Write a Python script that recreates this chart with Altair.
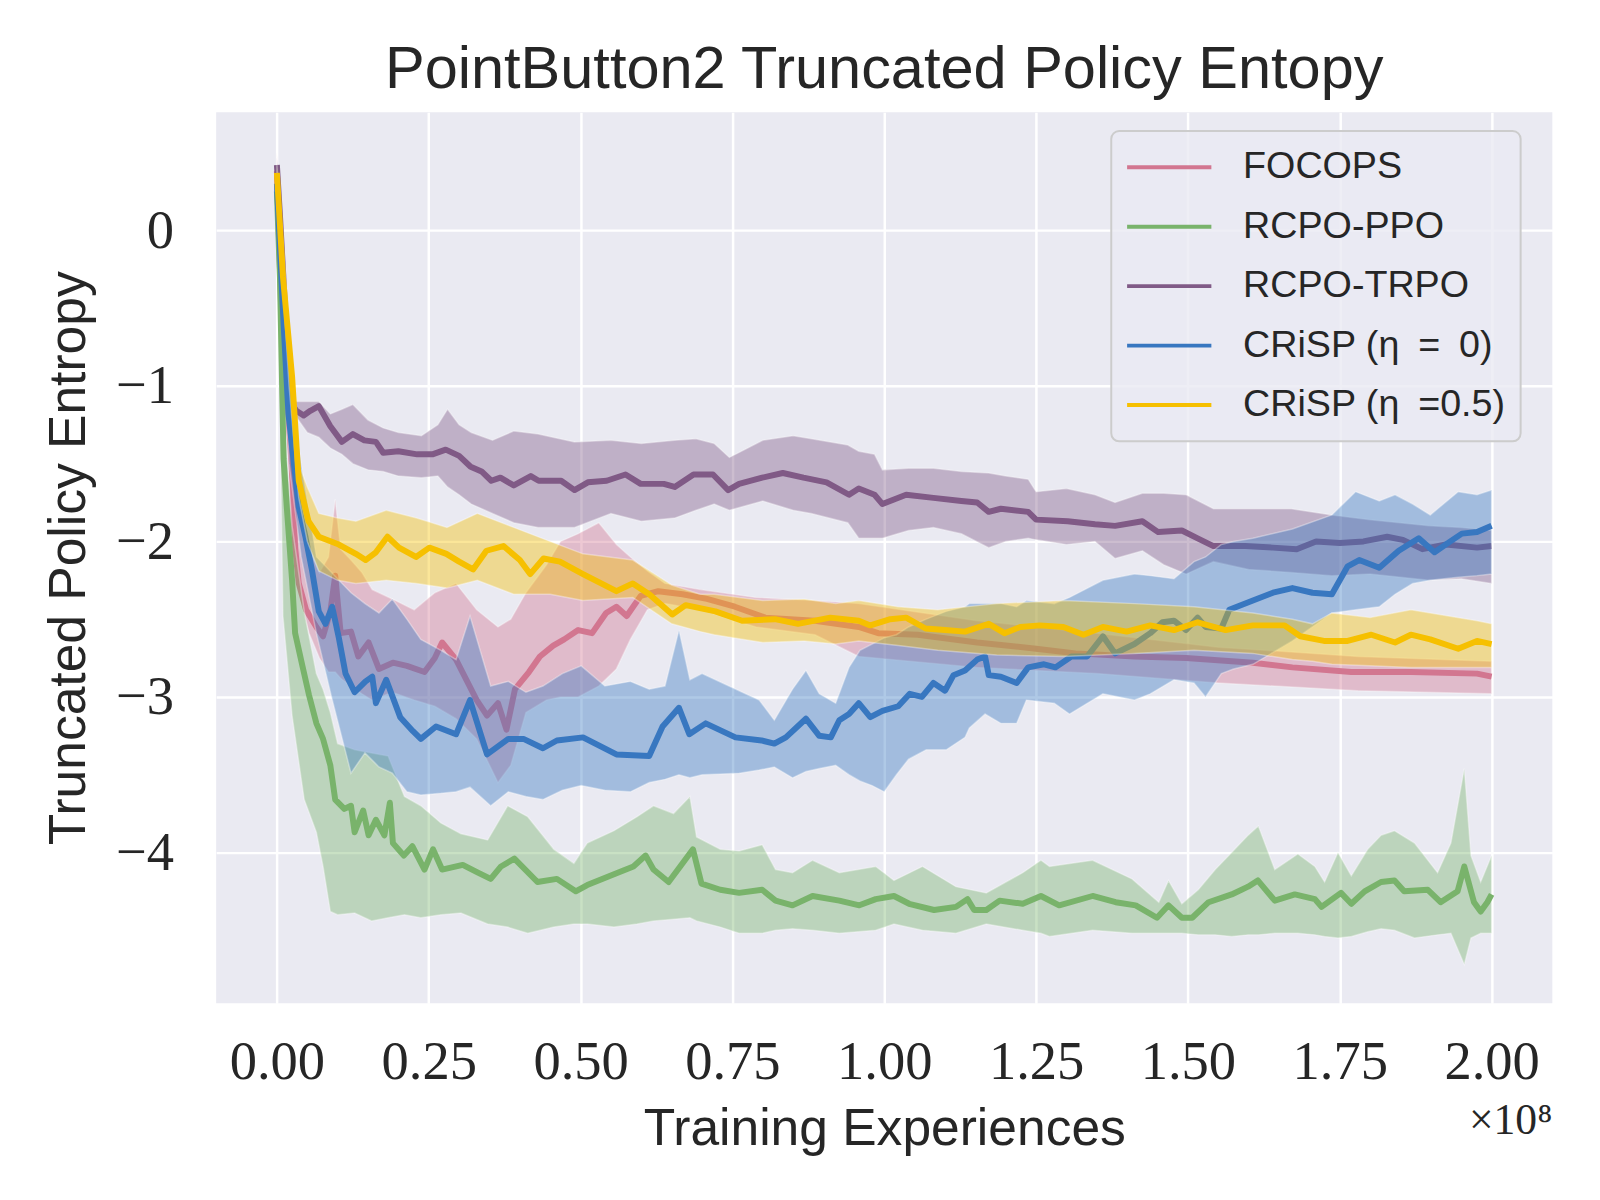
import altair as alt
import pandas as pd

# ---------------- data (x in units of 1e8 training experiences) ----------------
SERIES = ["FOCOPS", "RCPO-PPO", "RCPO-TRPO", "CRiSP (η\u2002=\u20020)", "CRiSP (η\u2002=0.5)"]
COLORS = ["#d27690", "#79b36b", "#805a86", "#3877c0", "#f6c000"]

# mean curves: [x, y]
focops_mean = [
    [0, 0.38], [0.008, -0.62], [0.019, -1.18], [0.025, -1.58], [0.03, -2.04], [0.036, -2.27],
    [0.048, -2.44], [0.065, -2.55], [0.076, -2.61], [0.088, -2.45], [0.096, -2.22], [0.105, -2.59],
    [0.122, -2.58], [0.134, -2.74], [0.151, -2.65], [0.168, -2.82], [0.191, -2.78], [0.214, -2.80],
    [0.243, -2.84], [0.26, -2.75], [0.272, -2.65], [0.295, -2.76], [0.312, -2.89], [0.329, -3.02],
    [0.346, -3.12], [0.364, -3.04], [0.378, -3.21], [0.392, -2.95], [0.415, -2.84], [0.433, -2.74],
    [0.455, -2.67], [0.473, -2.63], [0.496, -2.57], [0.519, -2.59], [0.542, -2.46], [0.559, -2.42],
    [0.576, -2.48], [0.599, -2.35], [0.628, -2.32], [0.668, -2.34], [0.708, -2.37], [0.754, -2.42],
    [0.804, -2.49], [0.886, -2.51], [0.958, -2.55], [0.99, -2.59], [1.055, -2.60], [1.153, -2.65],
    [1.25, -2.69], [1.315, -2.72], [1.412, -2.74], [1.497, -2.75], [1.607, -2.78], [1.672, -2.81],
    [1.769, -2.84], [1.867, -2.84], [1.976, -2.85], [2.0, -2.87],
]
ppo_mean = [
    [0, 0.25], [0.005, -0.3], [0.011, -1.47], [0.017, -1.82], [0.025, -2.25], [0.03, -2.59],
    [0.042, -2.80], [0.053, -2.99], [0.065, -3.17], [0.076, -3.27], [0.088, -3.44], [0.096, -3.66],
    [0.111, -3.72], [0.122, -3.70], [0.128, -3.87], [0.142, -3.73], [0.151, -3.89], [0.163, -3.79],
    [0.177, -3.89], [0.186, -3.68], [0.191, -3.94], [0.209, -4.02], [0.223, -3.96], [0.243, -4.11],
    [0.257, -3.98], [0.272, -4.11], [0.306, -4.08], [0.331, -4.13], [0.352, -4.17], [0.369, -4.09],
    [0.391, -4.04], [0.429, -4.19], [0.461, -4.17], [0.492, -4.25], [0.511, -4.21], [0.555, -4.14],
    [0.587, -4.09], [0.607, -4.02], [0.62, -4.11], [0.645, -4.19], [0.664, -4.09], [0.685, -3.98],
    [0.699, -4.20], [0.73, -4.24], [0.761, -4.26], [0.799, -4.24], [0.821, -4.31], [0.849, -4.34],
    [0.882, -4.28], [0.926, -4.31], [0.959, -4.34], [0.986, -4.30], [1.016, -4.28], [1.041, -4.33],
    [1.082, -4.37], [1.118, -4.35], [1.137, -4.30], [1.148, -4.37], [1.168, -4.37], [1.19, -4.31],
    [1.228, -4.33], [1.258, -4.28], [1.288, -4.34], [1.343, -4.28], [1.381, -4.32], [1.414, -4.34],
    [1.449, -4.42], [1.468, -4.34], [1.49, -4.42], [1.507, -4.42], [1.534, -4.32], [1.572, -4.27],
    [1.599, -4.22], [1.615, -4.18], [1.643, -4.31], [1.676, -4.27], [1.709, -4.30], [1.72, -4.35],
    [1.752, -4.26], [1.769, -4.33], [1.791, -4.25], [1.818, -4.19], [1.84, -4.18], [1.856, -4.25],
    [1.895, -4.24], [1.916, -4.32], [1.944, -4.25], [1.955, -4.09], [1.971, -4.32], [1.982, -4.38],
    [1.993, -4.32], [2.0, -4.27],
]
trpo_mean = [
    [0, 0.42], [0.005, 0.1], [0.022, -1.10], [0.032, -1.16], [0.044, -1.19], [0.055, -1.16],
    [0.069, -1.13], [0.088, -1.26], [0.107, -1.36], [0.125, -1.31], [0.144, -1.35], [0.163, -1.36],
    [0.175, -1.43], [0.2, -1.42], [0.231, -1.44], [0.256, -1.44], [0.278, -1.41], [0.3, -1.45],
    [0.319, -1.52], [0.337, -1.55], [0.353, -1.61], [0.368, -1.59], [0.39, -1.64], [0.418, -1.58],
    [0.431, -1.61], [0.468, -1.61], [0.49, -1.67], [0.512, -1.62], [0.543, -1.61], [0.574, -1.57],
    [0.599, -1.63], [0.637, -1.63], [0.655, -1.65], [0.686, -1.57], [0.718, -1.57], [0.743, -1.67],
    [0.761, -1.63], [0.799, -1.59], [0.833, -1.56], [0.867, -1.59], [0.905, -1.62], [0.942, -1.70],
    [0.958, -1.66], [0.984, -1.70], [0.997, -1.76], [1.036, -1.70], [1.081, -1.72], [1.127, -1.74],
    [1.153, -1.75], [1.172, -1.81], [1.192, -1.79], [1.237, -1.81], [1.25, -1.86], [1.302, -1.87],
    [1.347, -1.89], [1.38, -1.90], [1.425, -1.87], [1.451, -1.94], [1.49, -1.93], [1.516, -1.98],
    [1.542, -2.03], [1.594, -2.03], [1.64, -2.04], [1.679, -2.05], [1.711, -2.0], [1.75, -2.01],
    [1.789, -2.0], [1.828, -1.97], [1.854, -1.99], [1.886, -2.05], [1.925, -2.02], [1.976, -2.04],
    [2.0, -2.03],
]
crisp0_mean = [
    [0, 0.30], [0.011, -0.6], [0.019, -1.18], [0.036, -1.78], [0.047, -1.97], [0.058, -2.19],
    [0.069, -2.45], [0.08, -2.53], [0.091, -2.42], [0.102, -2.62], [0.113, -2.85], [0.128, -2.97],
    [0.146, -2.90], [0.157, -2.87], [0.163, -3.04], [0.18, -2.89], [0.203, -3.13], [0.224, -3.22],
    [0.237, -3.27], [0.262, -3.19], [0.295, -3.24], [0.318, -3.02], [0.334, -3.22], [0.346, -3.37],
    [0.381, -3.27], [0.406, -3.27], [0.438, -3.33], [0.461, -3.28], [0.504, -3.26], [0.559, -3.37],
    [0.613, -3.38], [0.635, -3.19], [0.662, -3.07], [0.679, -3.24], [0.706, -3.17], [0.755, -3.26],
    [0.798, -3.28], [0.819, -3.30], [0.838, -3.26], [0.871, -3.14], [0.893, -3.25], [0.912, -3.26],
    [0.926, -3.15], [0.942, -3.11], [0.958, -3.04], [0.977, -3.13], [0.997, -3.09], [1.023, -3.06],
    [1.042, -2.98], [1.062, -3.0], [1.081, -2.91], [1.1, -2.96], [1.114, -2.86], [1.133, -2.83],
    [1.153, -2.76], [1.166, -2.74], [1.172, -2.86], [1.192, -2.87], [1.218, -2.91], [1.237, -2.81],
    [1.263, -2.79], [1.282, -2.81], [1.308, -2.74], [1.334, -2.74], [1.36, -2.61], [1.38, -2.72],
    [1.412, -2.66], [1.438, -2.59], [1.458, -2.52], [1.477, -2.51], [1.497, -2.57], [1.516, -2.49],
    [1.529, -2.55], [1.555, -2.56], [1.568, -2.44], [1.607, -2.38], [1.64, -2.33], [1.672, -2.30],
    [1.705, -2.33], [1.737, -2.34], [1.763, -2.16], [1.782, -2.12], [1.815, -2.17], [1.847, -2.06],
    [1.88, -1.98], [1.906, -2.07], [1.932, -2.0], [1.951, -1.95], [1.976, -1.94], [2.0, -1.90],
]
crisp05_mean = [
    [0, 0.37], [0.01, -0.3], [0.025, -0.94], [0.036, -1.61], [0.052, -1.87], [0.069, -1.97],
    [0.102, -2.02], [0.13, -2.08], [0.146, -2.12], [0.163, -2.07], [0.182, -1.97], [0.201, -2.04],
    [0.229, -2.10], [0.251, -2.04], [0.279, -2.08], [0.30, -2.13], [0.323, -2.18], [0.345, -2.06],
    [0.373, -2.03], [0.40, -2.12], [0.417, -2.21], [0.439, -2.11], [0.466, -2.13], [0.504, -2.21],
    [0.559, -2.32], [0.586, -2.27], [0.613, -2.34], [0.651, -2.47], [0.673, -2.41], [0.722, -2.45],
    [0.766, -2.51], [0.82, -2.50], [0.858, -2.53], [0.911, -2.49], [0.958, -2.51], [0.977, -2.54],
    [1.01, -2.50], [1.036, -2.49], [1.068, -2.56], [1.1, -2.57], [1.133, -2.58], [1.172, -2.53],
    [1.198, -2.59], [1.224, -2.55], [1.256, -2.54], [1.295, -2.55], [1.328, -2.60], [1.36, -2.55],
    [1.399, -2.58], [1.438, -2.54], [1.477, -2.57], [1.516, -2.52], [1.562, -2.57], [1.607, -2.54],
    [1.659, -2.54], [1.685, -2.61], [1.724, -2.64], [1.763, -2.64], [1.802, -2.60], [1.841, -2.65],
    [1.867, -2.60], [1.899, -2.63], [1.945, -2.69], [1.976, -2.64], [2.0, -2.66],
]

# confidence bands: [x, lower, upper]
focops_band = [
    [0, 0.25, 0.5], [0.01, -0.8, -0.45], [0.025, -1.9, -1.3], [0.04, -2.4, -1.85], [0.053, -2.59, -2.05],
    [0.07, -2.75, -2.2], [0.085, -2.84, -2.1], [0.096, -2.84, -1.73], [0.105, -2.88, -2.05],
    [0.122, -2.93, -2.12], [0.14, -2.98, -2.2], [0.157, -3.02, -2.31], [0.19, -2.97, -2.37],
    [0.226, -3.02, -2.44], [0.26, -3.06, -2.33], [0.295, -3.14, -2.27], [0.329, -3.27, -2.44],
    [0.364, -3.55, -2.55], [0.385, -3.44, -2.50], [0.41, -3.10, -2.33], [0.444, -3.02, -2.15],
    [0.467, -3.0, -2.0], [0.496, -3.0, -1.95], [0.53, -2.93, -1.88], [0.559, -2.82, -2.02],
    [0.582, -2.63, -2.10], [0.61, -2.44, -2.19], [0.639, -2.40, -2.27], [0.697, -2.44, -2.31],
    [0.789, -2.55, -2.36], [0.886, -2.60, -2.38], [0.958, -2.74, -2.40], [1.153, -2.81, -2.51],
    [1.35, -2.85, -2.59], [1.55, -2.91, -2.68], [1.78, -2.96, -2.74], [2.0, -2.98, -2.77],
]
ppo_band = [
    [0, 0.2, 0.3], [0.01, -2.48, -1.1], [0.025, -3.12, -1.9], [0.045, -3.66, -2.45], [0.065, -3.87, -2.85],
    [0.076, -4.09, -2.95], [0.088, -4.38, -3.1], [0.10, -4.40, -3.3], [0.128, -4.39, -3.34],
    [0.156, -4.44, -3.36], [0.183, -4.42, -3.38], [0.21, -4.40, -3.64], [0.237, -4.42, -3.70],
    [0.27, -4.40, -3.81], [0.303, -4.39, -3.88], [0.347, -4.46, -3.92], [0.38, -4.48, -3.70],
    [0.413, -4.52, -3.77], [0.456, -4.48, -3.98], [0.489, -4.46, -4.07], [0.511, -4.46, -3.94],
    [0.555, -4.48, -3.86], [0.593, -4.46, -3.77], [0.62, -4.44, -3.70], [0.653, -4.43, -3.75],
    [0.68, -4.42, -3.64], [0.691, -4.44, -3.90], [0.73, -4.48, -3.98], [0.761, -4.52, -3.99],
    [0.799, -4.52, -3.95], [0.821, -4.50, -4.11], [0.849, -4.49, -4.13], [0.882, -4.50, -4.05],
    [0.926, -4.52, -4.13], [0.986, -4.50, -4.09], [1.016, -4.46, -4.18], [1.063, -4.50, -4.09],
    [1.118, -4.52, -4.22], [1.168, -4.46, -4.26], [1.228, -4.50, -4.13], [1.258, -4.52, -4.05],
    [1.272, -4.54, -4.09], [1.343, -4.50, -4.05], [1.408, -4.52, -4.17], [1.452, -4.52, -4.32],
    [1.468, -4.52, -4.18], [1.49, -4.52, -4.33], [1.517, -4.53, -4.24], [1.545, -4.53, -4.11],
    [1.572, -4.54, -4.00], [1.599, -4.53, -3.89], [1.616, -4.53, -3.83], [1.643, -4.52, -4.11],
    [1.681, -4.52, -4.01], [1.709, -4.53, -4.09], [1.725, -4.54, -4.19], [1.747, -4.55, -4.00],
    [1.769, -4.54, -4.15], [1.796, -4.51, -3.98], [1.818, -4.49, -3.89], [1.84, -4.50, -3.86],
    [1.873, -4.55, -3.94], [1.911, -4.53, -4.13], [1.933, -4.52, -3.94], [1.955, -4.72, -3.46],
    [1.966, -4.55, -4.02], [1.982, -4.52, -4.19], [2.0, -4.52, -4.02],
]
trpo_band = [
    [0, 0.36, 0.47], [0.022, -1.15, -1.05], [0.032, -1.20, -1.10], [0.05, -1.30, -1.10],
    [0.069, -1.33, -1.10], [0.088, -1.40, -1.18], [0.107, -1.44, -1.15], [0.125, -1.50, -1.12],
    [0.15, -1.54, -1.22], [0.175, -1.55, -1.27], [0.2, -1.58, -1.30], [0.238, -1.59, -1.32],
    [0.265, -1.58, -1.25], [0.281, -1.65, -1.15], [0.3, -1.70, -1.25], [0.32, -1.76, -1.30],
    [0.355, -1.82, -1.35], [0.39, -1.88, -1.29], [0.43, -1.91, -1.31], [0.49, -1.91, -1.36],
    [0.55, -1.82, -1.35], [0.6, -1.87, -1.37], [0.655, -1.85, -1.35], [0.69, -1.80, -1.34],
    [0.72, -1.76, -1.37], [0.745, -1.80, -1.46], [0.8, -1.74, -1.35], [0.85, -1.80, -1.32],
    [0.88, -1.82, -1.34], [0.94, -1.88, -1.38], [0.958, -1.98, -1.42], [0.984, -1.98, -1.44],
    [0.997, -1.98, -1.54], [1.04, -1.93, -1.53], [1.081, -1.91, -1.53], [1.127, -1.95, -1.55],
    [1.172, -2.04, -1.56], [1.2, -2.0, -1.58], [1.237, -1.98, -1.60], [1.25, -1.99, -1.68],
    [1.3, -2.02, -1.66], [1.347, -2.0, -1.70], [1.38, -2.11, -1.75], [1.425, -2.06, -1.69],
    [1.46, -2.15, -1.69], [1.497, -2.21, -1.70], [1.542, -2.13, -1.79], [1.6, -2.18, -1.79],
    [1.67, -2.20, -1.79], [1.737, -2.22, -1.83], [1.8, -2.21, -1.86], [1.897, -2.25, -1.90],
    [1.95, -2.24, -1.91], [2.0, -2.27, -1.93],
]
crisp0_band = [
    [0, 0.2, 0.35], [0.02, -1.5, -0.9], [0.04, -2.1, -1.5], [0.065, -2.59, -2.1], [0.09, -3.0, -2.2],
    [0.122, -3.49, -2.33], [0.145, -3.36, -2.40], [0.168, -3.45, -2.46], [0.19, -3.49, -2.37],
    [0.214, -3.61, -2.50], [0.237, -3.63, -2.63], [0.27, -3.62, -2.70], [0.295, -3.61, -2.76],
    [0.318, -3.58, -2.48], [0.352, -3.70, -2.93], [0.381, -3.61, -2.90], [0.41, -3.64, -2.97],
    [0.438, -3.66, -2.93], [0.47, -3.60, -2.85], [0.501, -3.57, -2.80], [0.54, -3.60, -2.93],
    [0.582, -3.61, -2.90], [0.613, -3.55, -2.95], [0.639, -3.53, -2.93], [0.662, -3.50, -2.57],
    [0.68, -3.52, -2.89], [0.70, -3.50, -2.85], [0.761, -3.49, -2.96], [0.794, -3.47, -3.02],
    [0.819, -3.45, -3.15], [0.849, -3.52, -2.95], [0.871, -3.48, -2.83], [0.893, -3.46, -2.98],
    [0.92, -3.44, -3.04], [0.942, -3.50, -2.81], [0.96, -3.54, -2.70], [0.98, -3.57, -2.66],
    [1.0, -3.61, -2.62], [1.02, -3.50, -2.60], [1.04, -3.40, -2.55], [1.069, -3.34, -2.50],
    [1.102, -3.34, -2.45], [1.133, -3.26, -2.42], [1.14, -3.20, -2.40], [1.166, -3.11, -2.40],
    [1.192, -3.17, -2.40], [1.218, -3.17, -2.42], [1.234, -3.02, -2.38], [1.28, -3.04, -2.40],
    [1.305, -3.11, -2.36], [1.36, -2.98, -2.25], [1.412, -3.02, -2.21], [1.438, -2.98, -2.22],
    [1.477, -2.89, -2.24], [1.51, -2.91, -2.13], [1.529, -3.0, -2.10], [1.555, -2.85, -2.02],
    [1.575, -2.82, -2.0], [1.607, -2.79, -1.98], [1.672, -2.64, -1.92], [1.737, -2.46, -1.83],
    [1.776, -2.44, -1.68], [1.815, -2.42, -1.74], [1.841, -2.34, -1.70], [1.87, -2.27, -1.76],
    [1.899, -2.25, -1.83], [1.945, -2.23, -1.68], [1.976, -2.22, -1.70], [2.0, -2.21, -1.67],
]
crisp05_band = [
    [0, 0.3, 0.42], [0.02, -1.0, -0.6], [0.036, -1.72, -1.50], [0.05, -2.0, -1.65], [0.069, -2.19, -1.82],
    [0.10, -2.25, -1.85], [0.13, -2.27, -1.87], [0.18, -2.25, -1.80], [0.23, -2.27, -1.85],
    [0.28, -2.30, -1.91], [0.33, -2.25, -1.82], [0.39, -2.34, -1.91], [0.45, -2.34, -2.0],
    [0.504, -2.38, -2.08], [0.586, -2.36, -2.12], [0.65, -2.53, -2.28], [0.697, -2.58, -2.34],
    [0.72, -2.60, -2.34], [0.80, -2.65, -2.38], [0.868, -2.64, -2.37], [0.92, -2.66, -2.40],
    [0.958, -2.64, -2.38], [1.023, -2.67, -2.42], [1.088, -2.70, -2.44], [1.185, -2.73, -2.40],
    [1.295, -2.74, -2.38], [1.412, -2.72, -2.40], [1.51, -2.70, -2.42], [1.607, -2.72, -2.46],
    [1.672, -2.76, -2.50], [1.705, -2.77, -2.53], [1.737, -2.79, -2.46], [1.8, -2.80, -2.49],
    [1.867, -2.81, -2.44], [1.976, -2.81, -2.51], [2.0, -2.81, -2.53],
]

X_TICKS = [0, 0.25, 0.5, 0.75, 1.0, 1.25, 1.5, 1.75, 2.0]
Y_TICKS = [0, -1, -2, -3, -4]
X_DOMAIN = [-0.1, 2.1]
Y_DOMAIN = [-4.97, 0.76]

TITLE = "PointButton2 Truncated Policy Entopy"
X_TITLE = "Training Experiences"
Y_TITLE = "Truncated Policy Entropy"
X_EXPONENT = "×10⁸"

# ---------------- chart ----------------
SANS = "Liberation Sans"
SERIF = "Liberation Serif"
INK = "#262626"
W, H = 1348, 899

color_scale = alt.Scale(domain=SERIES, range=COLORS)
x_scale = alt.Scale(domain=X_DOMAIN, nice=False, zero=False)
y_scale = alt.Scale(domain=Y_DOMAIN, nice=False, zero=False)

x_axis = alt.Axis(values=X_TICKS, format=".2f", title=X_TITLE, grid=True, ticks=False, tickSize=0,
                  domain=False, labelFont=SERIF, labelFontSize=55, labelColor=INK, labelPadding=33,
                  titleFont=SANS, titleFontSize=52, titleFontWeight="normal", titleColor=INK,
                  titlePadding=14, gridColor="white", gridWidth=2.5, labelFlush=False)
y_axis = alt.Axis(values=Y_TICKS, format="d", title=Y_TITLE, grid=True, ticks=False, tickSize=0,
                  domain=False, labelFont=SERIF, labelFontSize=55, labelColor=INK, labelPadding=43,
                  titleFont=SANS, titleFontSize=52, titleFontWeight="normal", titleColor=INK,
                  titlePadding=20, gridColor="white", gridWidth=2.5, labelFlush=False)

legend = alt.Legend(
    title=None, orient="none", legendX=903, legendY=19, symbolType="stroke", symbolSize=7225,
    symbolStrokeWidth=4, clipHeight=45, rowPadding=15, labelOffset=30, labelFont=SANS,
    labelFontSize=38, labelColor=INK, padding=14, fillColor="rgba(234,234,242,0.8)",
    strokeColor="#cccccc", cornerRadius=8, labelLimit=500,
)

groups = [
    (SERIES[0], focops_mean, focops_band),
    (SERIES[1], ppo_mean, ppo_band),
    (SERIES[2], trpo_mean, trpo_band),
    (SERIES[3], crisp0_mean, crisp0_band),
    (SERIES[4], crisp05_mean, crisp05_band),
]

layers = []
for name, mean, band in groups:
    bdf = pd.DataFrame(band, columns=["x", "lo", "hi"])
    bdf["series"] = name
    mdf = pd.DataFrame(mean, columns=["x", "y"])
    mdf["series"] = name
    area = alt.Chart(bdf).mark_area(fillOpacity=0.4, stroke="white", strokeOpacity=0.35,
                                    strokeWidth=1.5).encode(
        x=alt.X("x:Q", scale=x_scale, axis=x_axis),
        y=alt.Y("lo:Q", scale=y_scale, axis=y_axis),
        y2="hi:Q",
        color=alt.Color("series:N", scale=color_scale, legend=legend),
    )
    line = alt.Chart(mdf).mark_line(strokeWidth=6, strokeJoin="round").encode(
        x=alt.X("x:Q", scale=x_scale, axis=x_axis),
        y=alt.Y("y:Q", scale=y_scale, axis=y_axis),
        color=alt.Color("series:N", scale=color_scale, legend=legend),
    )
    layers += [area, line]

exp_df = pd.DataFrame({"t": [X_EXPONENT]})
exponent = alt.Chart(exp_df).mark_text(font=SERIF, fontSize=44, color=INK, align="right",
                                       baseline="middle").encode(
    x=alt.value(W), y=alt.value(1018), text="t:N"
)
layers.append(exponent)

chart = alt.layer(*layers).properties(
    width=W, height=H,
    title=alt.TitleParams(TITLE, font=SANS, fontSize=60, fontWeight="normal", color=INK, offset=11),
    padding={"left": 210, "top": 100, "right": 40, "bottom": 155},
    autosize=alt.AutoSizeParams(type="none"),
    background="white",
).configure_view(stroke=None, fill="#eaeaf2").configure_legend(strokeWidth=2)

chart.save("out.html", embed_options={"renderer": "svg", "actions": False})
